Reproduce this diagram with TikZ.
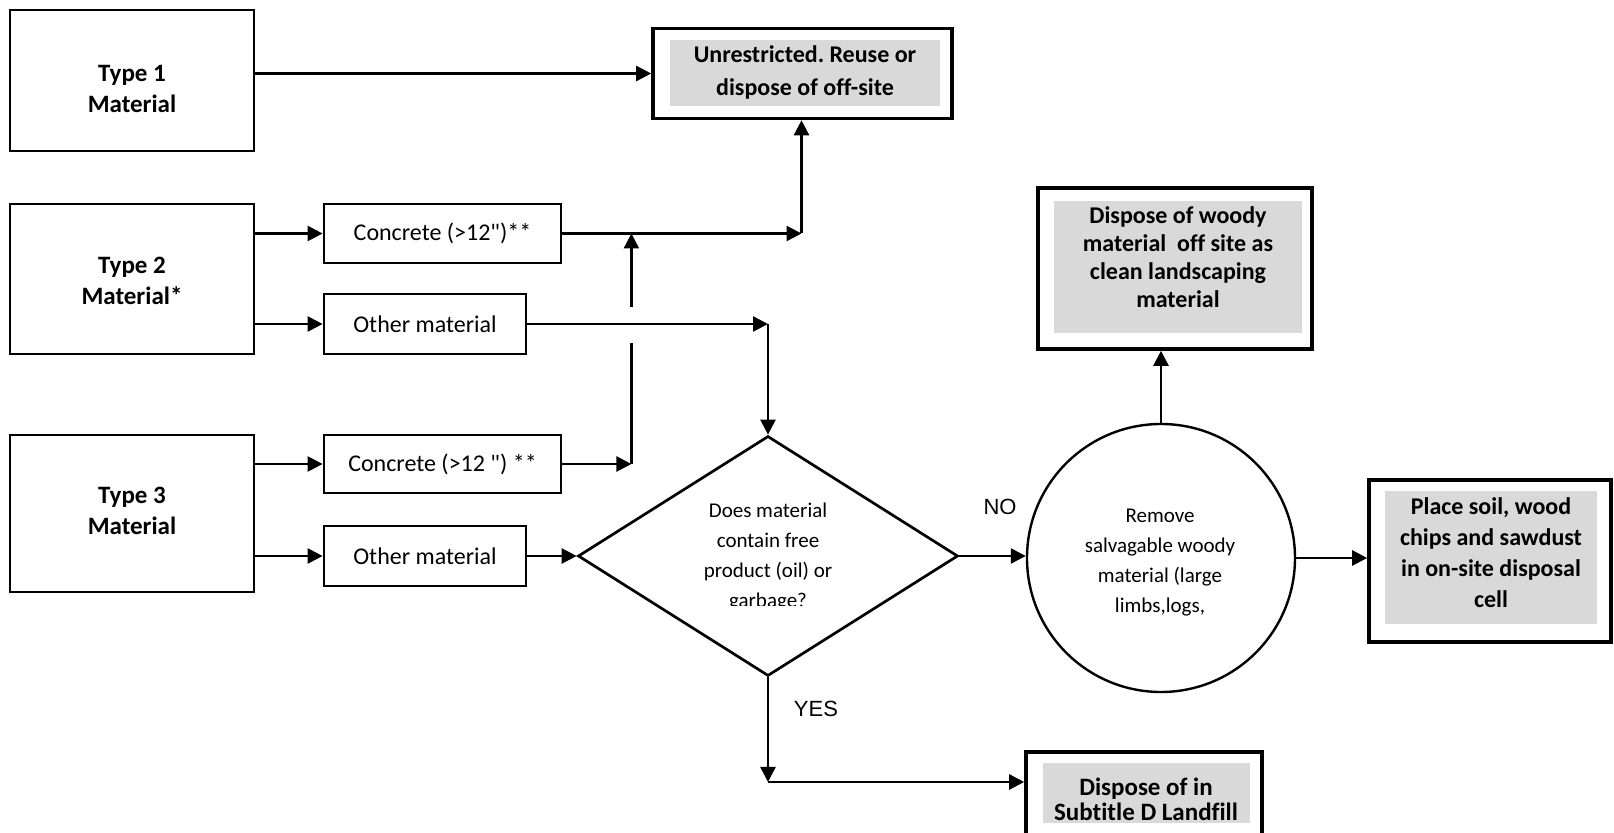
\documentclass[tikz,border=0pt]{standalone}
\usepackage{fontspec}
\setmainfont{Carlito}[Ligatures={TeXOff,CommonOff}]
\newfontfamily\arialfont{Liberation Sans}
\usetikzlibrary{shapes.geometric,arrows.meta,calc}
\definecolor{grayfill}{RGB}{217,217,217}
\frenchspacing
\begin{document}
\begin{tikzpicture}[x=0.5pt,y=-0.5pt,
  conn/.style={line width=1.2pt,-{Triangle[length=7.5pt,width=7.5pt]}},
  plainline/.style={line width=1.2pt},
  typebox/.style={draw,line width=1.4pt,inner sep=0pt,rectangle},
  smallbox/.style={draw,line width=1.4pt,inner sep=0pt,rectangle,font=\fontsize{12}{14}\selectfont},
  outbox/.style={draw,line width=1.8pt,inner sep=0pt,rectangle,fill=white},
  graybox/.style={fill=grayfill,inner sep=0pt,rectangle},
  btext/.style={font=\bfseries\fontsize{12.5}{15.5}\selectfont,align=center,inner sep=0pt},
  rtext/.style={font=\bfseries\fontsize{12}{15.5}\selectfont,align=center,inner sep=0pt},
  dtext/.style={font=\fontsize{10.5}{15}\selectfont,align=center,inner sep=0pt},
  lbl/.style={font=\arialfont\fontsize{11}{13}\selectfont,inner sep=0pt}
]
\useasboundingbox (0,0) rectangle (1614,833);
\fill[white] (0,0) rectangle (1614,833);
\clip (0,0) rectangle (1614,833);

% type boxes
\node[typebox,minimum width=122pt,minimum height=70.5pt] (t1) at (132,80.5) {};
\node[btext] (t1txt) at (132,89) {Type 1\\Material};
\node[typebox,minimum width=122pt,minimum height=75pt] (t2) at (132,279) {};
\node[btext] (t2txt) at (132,281) {Type 2\\Material*};
\node[typebox,minimum width=122pt,minimum height=78.5pt] (t3) at (132,513.5) {};
\node[btext] (t3txt) at (132,511) {Type 3\\Material};

% small boxes
\node[smallbox,minimum width=118.5pt,minimum height=29.5pt] (c1) at (442.5,233.5) {Concrete (>12")**};
\node[smallbox,minimum width=101pt,minimum height=30pt] (o1) at (425,324) {Other material};
\node[smallbox,minimum width=118.5pt,minimum height=29pt] (c3) at (442.5,464) {Concrete (>12 ") **};
\node[smallbox,minimum width=101pt,minimum height=30pt] (o3) at (425,556) {Other material};

% result boxes
\node[outbox,minimum width=149.5pt,minimum height=45pt] (unr) at (802.5,73.5) {};
\node[graybox,minimum width=135pt,minimum height=33pt] (unrg) at (805,73) {};
\node[rtext,font=\bfseries\fontsize{12}{16.5}\selectfont] (unrtxt) at (805,72) {Unrestricted. Reuse or\\dispose of off-site};

\node[outbox,minimum width=137pt,minimum height=80.5pt] (woody) at (1175,268.5) {};
\node[graybox,minimum width=124pt,minimum height=66pt] (woodyg) at (1178,267) {};
\node[rtext,font=\bfseries\fontsize{12}{14}\selectfont] (woodytxt) at (1178,257) {Dispose of woody\\material\ \ off site as\\clean landscaping\\material};

\node[outbox,minimum width=121pt,minimum height=81pt] (place) at (1490,561) {};
\node[graybox,minimum width=106pt,minimum height=66.5pt] (placeg) at (1491,557.5) {};
\node[rtext] (placetxt) at (1491,553) {Place soil, wood\\chips and sawdust\\in on-site disposal\\cell};

\node[outbox,minimum width=118pt,minimum height=46.5pt] (land) at (1144,798.5) {};
\node[graybox,minimum width=103.5pt,minimum height=30pt] (landg) at (1146.5,793) {};
\node[rtext,font=\bfseries\fontsize{12.5}{12.5}\selectfont] (landtxt) at (1146,799.5) {Dispose of in\\Subtitle D Landfill};

% decision diamond and circle
\node[draw,diamond,line width=1.35pt,minimum width=190pt,minimum height=120pt,inner sep=0pt] (dia) at (768,556) {};
\begin{scope}
\clip (600,470) rectangle (940,606);
\node[dtext] (diatxt) at (768,557.5) {Does material\\contain free\\product (oil) or\\garbage?};
\end{scope}
\node[draw,circle,line width=1.2pt,minimum size=134pt,inner sep=0pt] (circ) at (1161,558) {};
\node[dtext] (circtxt) at (1160,562.5) {Remove\\salvagable woody\\material (large\\limbs,logs,};

\node[lbl] (no) at (1000,507) {NO};
\node[lbl] (yes) at (816,709) {YES};

% connectors
\draw[conn] (t1.east |- unr.west) -- (unr.west);
\draw[conn] (t2.east |- c1.west) -- (c1.west);
\draw[conn] (t2.east |- o1.west) -- (o1.west);
\draw[conn] (t3.east |- c3.west) -- (c3.west);
\draw[conn] (t3.east |- o3.west) -- (o3.west);

\coordinate (j2) at ($(unr.south |- c1.east)+(-1,0)$);
\draw[conn] (c1.east) -- (j2);
\draw[conn] (j2) -- (j2 |- unr.south);

\coordinate (j3) at ($(c3.east)+(69,0)$);
\draw[conn] (c3.east) -- (j3);
\draw[plainline] (j3) -- ($(j3 |- o1.east)+(0,19)$);
\draw[conn] ($(j3 |- o1.east)+(0,-17)$) -- (j3 |- c1.east);

\coordinate (j4) at (dia.north |- o1.east);
\draw[conn] (o1.east) -- (j4);
\draw[conn] (j4) -- (dia.north);

\draw[conn] (o3.east) -- (dia.west);
\draw[conn] (dia.east) -- (dia.east -| circ.west);
\draw[conn] (circ.north) -- (circ.north |- woody.south);
\draw[conn] (circ.east) -- (circ.east -| place.west);

\coordinate (yc) at (768,782);
\draw[conn] (dia.south) -- (yc);
\draw[conn] (yc) -- (yc -| land.west);
\end{tikzpicture}
\end{document}
